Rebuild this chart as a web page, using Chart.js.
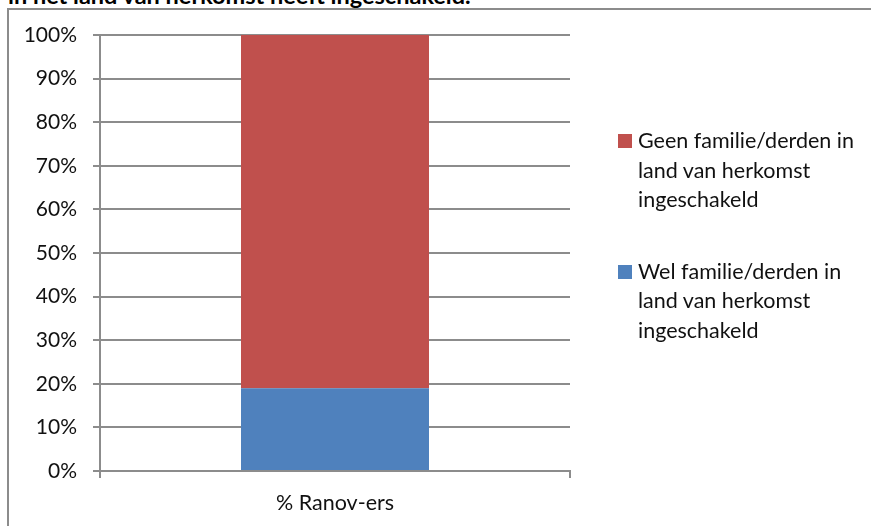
<!DOCTYPE html>
<html>
<head>
<meta charset="utf-8">
<script src="https://cdn.jsdelivr.net/npm/chart.js@4"></script>
<style>
  html, body { margin: 0; padding: 0; background: #fff; overflow: hidden; }
  #wrap { position: relative; width: 871px; height: 526px; font-family: Lato, "Open Sans", sans-serif; overflow: hidden; }
  #frame { position: absolute; left: 7px; top: 8px; width: 900px; height: 600px;
           border-left: 2px solid #8c8c8c; border-top: 2px solid #8c8c8c; }
  #title { position: absolute; left: 8px; top: -18px; font-weight: bold; font-size: 23.5px; line-height: 27px; color: #000; white-space: nowrap; }
  #chart { position: absolute; left: 0; top: 0; }
  #legend { position: absolute; left: 618px; top: 126px; font-size: 21.5px; color: #111; }
  .item { position: relative; padding-left: 20px; line-height: 29.5px; margin-bottom: 42px; width: 250px; }
  .box { position: absolute; left: 0; top: 8px; width: 14px; height: 14px; }
</style>
</head>
<body>
<div id="wrap">
  <div id="frame"></div>
  <div id="title">in het land van herkomst heeft ingeschakeld.</div>
  <canvas id="chart" width="871" height="526"></canvas>
  <div id="legend"></div>
</div>
<script>
var categories = ['% Ranov-ers'];
var welValues = [19];
var geenValues = [81];
var seriesLabels = [
    ['Wel familie/derden in', 'land van herkomst', 'ingeschakeld'],
    ['Geen familie/derden in', 'land van herkomst', 'ingeschakeld']
];
var seriesColors = ['#4f81bd', '#c0504d'];
var yTicks = [0, 10, 20, 30, 40, 50, 60, 70, 80, 90, 100];

var datasets = [
    { label: seriesLabels[0].join(' '), data: welValues, backgroundColor: seriesColors[0] },
    { label: seriesLabels[1].join(' '), data: geenValues, backgroundColor: seriesColors[1] }
];

var lineColor = '#8c8c8c';

var chart = new Chart('chart', {
    type: 'bar',
    data: { labels: categories, datasets: datasets },
    options: {
        responsive: false,
        animation: false,
        devicePixelRatio: 1,
        layout: { padding: { left: 0, right: 301, top: 35, bottom: 0 } },
        datasets: { bar: { barPercentage: 0.4, categoryPercentage: 1.0 } },
        plugins: { legend: { display: false }, tooltip: { enabled: false } },
        scales: {
            x: {
                stacked: true,
                grid: { display: true, drawOnChartArea: false, color: lineColor, lineWidth: 2, tickLength: 7, offset: true },
                border: { color: lineColor, width: 2 },
                ticks: { color: '#111', padding: 12, font: { family: 'Lato', size: 21.5 } },
                afterFit: function (s) { s.height = 55; }
            },
            y: {
                stacked: true,
                min: 0,
                max: 100,
                afterBuildTicks: function (s) { s.ticks = yTicks.map(function (v) { return { value: v }; }); },
                grid: { color: lineColor, lineWidth: 2, tickLength: 7 },
                border: { color: lineColor, width: 2 },
                ticks: {
                    color: '#111', padding: 16,
                    font: { family: 'Lato', size: 21 },
                    callback: function (v) { return v + '%'; }
                },
                afterFit: function (s) { s.width = 100; }
            }
        }
    }
});

// legend, red first like the original
var legend = document.getElementById('legend');
for (var i = datasets.length - 1; i >= 0; i--) {
    var item = document.createElement('div');
    item.className = 'item';
    item.innerHTML = '<span class="box" style="background:' + seriesColors[i] + '"></span>' + seriesLabels[i].join('<br>');
    legend.appendChild(item);
}
</script>
</body>
</html>
